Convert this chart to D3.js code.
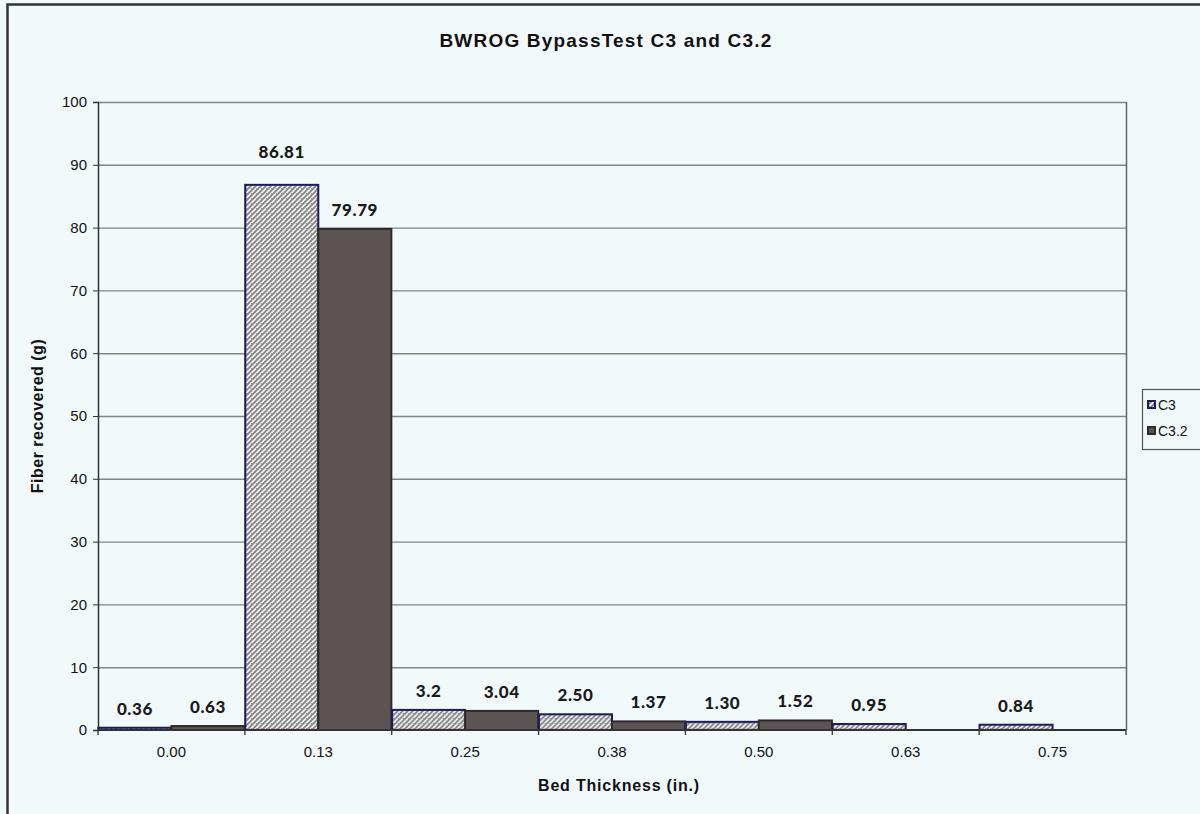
<!DOCTYPE html>
<html>
<head>
<meta charset="utf-8">
<script src="https://cdn.jsdelivr.net/npm/d3@7"></script>
<style>
  html, body { margin: 0; padding: 0; background: #f2f9fb; }
  svg { display: block; font-family: "Liberation Sans", Arial, sans-serif; }
  .lbl { font-family: "Lato", "Open Sans", sans-serif; font-weight: 900; font-size: 17px; fill: #1a1a1a; letter-spacing: 0.6px; }
</style>
</head>
<body>
<div id="chart"></div>
<script>
// data
var categories = ["0.00", "0.13", "0.25", "0.38", "0.50", "0.63", "0.75"];
var seriesNames = ["C3", "C3.2"];
var c3Values  = [0.36, 86.81, 3.2, 2.50, 1.30, 0.95, 0.84];
var c32Values = [0.63, 79.79, 3.04, 1.37, 1.52, null, null];
var c3Labels  = ["0.36", "86.81", "3.2", "2.50", "1.30", "0.95", "0.84"];
var c32Labels = ["0.63", "79.79", "3.04", "1.37", "1.52", null, null];
var yTicks = [0, 10, 20, 30, 40, 50, 60, 70, 80, 90, 100];

var width = 1200, height = 814;
var margin = {top: 102, right: 74, bottom: 84, left: 98};
var bg = "#f2f9fb";

var svg = d3.select("#chart").append("svg")
    .attr("width", width)
    .attr("height", height);

// hatch pattern for C3
var defs = svg.append("defs");
var pat = defs.append("pattern")
    .attr("id", "hatch")
    .attr("patternUnits", "userSpaceOnUse")
    .attr("width", 5).attr("height", 5);
pat.append("rect").attr("width", 5).attr("height", 5).attr("fill", "#f4f4f4");
pat.append("path")
    .attr("d", "M0,5 L5,0 M-1,1 L1,-1 M4,6 L6,4")
    .attr("stroke", "#7e7e7e").attr("stroke-width", 1.7);
pat.append("rect").attr("x", 1).attr("y", 1).attr("width", 1).attr("height", 1).attr("fill", "#9a9a9a");

// background + outer frame
svg.append("rect").attr("width", width).attr("height", height).attr("fill", bg);
svg.append("path")
    .attr("d", "M7.5," + height + " V4.5 H" + width)
    .attr("fill", "none").attr("stroke", "#333").attr("stroke-width", 2.5);

var plotW = width - margin.left - margin.right;
var plotH = height - margin.top - margin.bottom;

var x0 = d3.scaleBand().domain(categories).range([0, plotW]).padding(0);
var x1 = d3.scaleBand().domain(seriesNames).range([0, x0.bandwidth()]).paddingOuter(0.005);
var y = d3.scaleLinear().domain([0, 100]).range([plotH, 0]);

var g = svg.append("g").attr("transform", "translate(" + margin.left + "," + margin.top + ")");

// gridlines
g.append("g").selectAll("line")
    .data(yTicks.filter(function(d) { return d > 0; }))
    .enter().append("line")
    .attr("x1", 0).attr("x2", plotW)
    .attr("y1", function(d) { return y(d) + 0.5; })
    .attr("y2", function(d) { return y(d) + 0.5; })
    .attr("stroke", "#858585").attr("stroke-width", 1.4);

// right border of plot area
g.append("line")
    .attr("x1", plotW + 0.5).attr("x2", plotW + 0.5)
    .attr("y1", 0).attr("y2", plotH)
    .attr("stroke", "#666").attr("stroke-width", 1.5);

// y axis
var yAxis = g.append("g")
    .call(d3.axisLeft(y).tickValues(yTicks).tickSize(5).tickPadding(6));
yAxis.select(".domain").attr("stroke", "#333").attr("stroke-width", 1.5);
yAxis.selectAll(".tick line").attr("stroke", "#333");
yAxis.selectAll("text").attr("font-size", 15).attr("fill", "#111");

// bars
var rows = categories.map(function(c, i) {
  return {cat: c, vals: [
    {s: "C3", v: c3Values[i], l: c3Labels[i]},
    {s: "C3.2", v: c32Values[i], l: c32Labels[i]}
  ]};
});

var grp = g.selectAll(".grp").data(rows).enter().append("g")
    .attr("transform", function(d) { return "translate(" + x0(d.cat) + ",0)"; });

grp.selectAll("rect")
    .data(function(d) { return d.vals.filter(function(e) { return e.v != null; }); })
    .enter().append("rect")
    .attr("x", function(d) { return x1(d.s); })
    .attr("width", x1.bandwidth())
    .attr("y", function(d) { return y(d.v); })
    .attr("height", function(d) { return plotH - y(d.v); })
    .attr("fill", function(d) { return d.s === "C3" ? "url(#hatch)" : "#5c5452"; })
    .attr("stroke", function(d) { return d.s === "C3" ? "#1c1c5e" : "#2e2a2a"; })
    .attr("stroke-width", 2);

grp.selectAll("text")
    .data(function(d) { return d.vals.filter(function(e) { return e.l != null; }); })
    .enter().append("text")
    .attr("class", "lbl")
    .attr("x", function(d) { return x1(d.s) + x1.bandwidth() / 2; })
    .attr("y", function(d) { return y(d.v) - (d.v > 85 ? 27 : 13); })
    .attr("text-anchor", "middle")
    .text(function(d) { return d.l; });

// x axis
var xAxis = g.append("g")
    .attr("transform", "translate(0," + plotH + ")")
    .call(d3.axisBottom(x0).tickSize(0).tickPadding(16));
xAxis.select(".domain").remove();
xAxis.selectAll("text").attr("font-size", 15).attr("fill", "#111");
g.append("line")
    .attr("x1", 0).attr("x2", plotW)
    .attr("y1", plotH).attr("y2", plotH)
    .attr("stroke", "#333").attr("stroke-width", 2);
g.append("g").selectAll("line")
    .data(d3.range(categories.length + 1))
    .enter().append("line")
    .attr("x1", function(i) { return i * x0.bandwidth(); })
    .attr("x2", function(i) { return i * x0.bandwidth(); })
    .attr("y1", plotH).attr("y2", plotH + 5)
    .attr("stroke", "#333").attr("stroke-width", 1.3);

// titles
svg.append("text")
    .attr("x", 606).attr("y", 47)
    .attr("text-anchor", "middle")
    .attr("font-size", 19).attr("font-weight", "bold").attr("fill", "#111")
    .attr("letter-spacing", 1.2)
    .text("BWROG  BypassTest C3 and C3.2");

svg.append("text")
    .attr("x", 619).attr("y", 791)
    .attr("text-anchor", "middle")
    .attr("font-size", 16).attr("font-weight", "bold").attr("fill", "#111")
    .attr("letter-spacing", 0.8)
    .text("Bed Thickness (in.)");

svg.append("text")
    .attr("transform", "translate(43," + (margin.top + plotH / 2) + ") rotate(-90)")
    .attr("text-anchor", "middle")
    .attr("font-size", 16).attr("font-weight", "bold").attr("fill", "#111")
    .attr("letter-spacing", 0.5)
    .text("Fiber recovered (g)");

// legend
var leg = svg.append("g").attr("transform", "translate(1142,389)");
leg.append("rect")
    .attr("x", 0.5).attr("y", 0.5).attr("width", 70).attr("height", 60)
    .attr("fill", bg).attr("stroke", "#555").attr("stroke-width", 1.2);
seriesNames.forEach(function(s, i) {
  var row = leg.append("g").attr("transform", "translate(6," + (16 + i * 26) + ")");
  row.append("rect")
      .attr("x", 0).attr("y", -4).attr("width", 7).attr("height", 7)
      .attr("fill", s === "C3" ? "url(#hatch)" : "#5c5452")
      .attr("stroke", s === "C3" ? "#1c1c5e" : "#2e2a2a").attr("stroke-width", 2);
  row.append("text")
      .attr("x", 10).attr("y", 5)
      .attr("font-size", 14).attr("fill", "#111")
      .text(s);
});
</script>
</body>
</html>
